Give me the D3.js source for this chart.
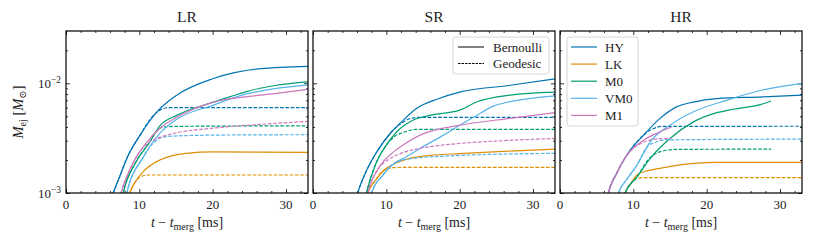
<!DOCTYPE html>
<html>
<head>
<meta charset="utf-8">
<script src="https://cdn.jsdelivr.net/npm/d3@7"></script>
<style>
  body { margin: 0; background: #fff; }
  text { font-family: "Liberation Serif", "DejaVu Serif", serif; fill: #222; }
</style>
</head>
<body>
<svg id="chart" width="813" height="244" font-family="Liberation Serif, serif"></svg>
<script>
// panel names and models
var panels = ["LR", "SR", "HR"];
var models = ["HY", "LK", "M0", "VM0", "M1"];
var colors = ["#0173b2", "#de8f05", "#029e73", "#56b4e9", "#cc78bc"];
var xTicks = [0, 10, 20, 30];
var yTicks = [1e-3, 1e-2];

// ejected mass curves, [t - t_merg (ms), M_ej (Msun)]
var bernLR = {
  HY:  [[6.0,0.0008],[6.45,0.001],[7.3,0.0014],[8.3,0.00207],[10.1,0.00337],[12.4,0.0055],[15.1,0.0078],[20,0.011],[26.5,0.0136],[33,0.0143]],
  LK:  [[8.3,0.0008],[8.7,0.001],[9.5,0.00128],[10.5,0.00156],[12.8,0.002],[16.4,0.0023],[20,0.00237],[33,0.00235]],
  M0:  [[7.5,0.0008],[7.8,0.001],[9.5,0.0019],[11.4,0.0029],[12.8,0.0041],[15.1,0.0051],[20,0.0067],[22.8,0.0077],[24.6,0.0084],[28.7,0.0096],[33,0.0103]],
  VM0: [[8.0,0.0008],[8.3,0.001],[10.5,0.0021],[12.8,0.0035],[15.1,0.0047],[20,0.0063],[24.6,0.008],[28.7,0.009],[33,0.0097]],
  M1:  [[7.1,0.0008],[7.5,0.001],[9,0.0018],[11,0.0029],[12.8,0.0039],[15.1,0.0049],[20,0.0067],[25,0.0076],[28.7,0.0081],[33,0.0088]]
};
var geoLR = {
  HY:  [[6.0,0.0008],[6.45,0.001],[7.3,0.0014],[8.3,0.00207],[10.1,0.00337],[11.8,0.005],[12.8,0.0057],[14,0.006],[33,0.006]],
  LK:  [[8.3,0.0008],[8.7,0.001],[9.5,0.00128],[10.3,0.00142],[11.2,0.00146],[33,0.00146]],
  M0:  [[7.5,0.0008],[7.8,0.001],[9.5,0.0019],[11.4,0.0029],[12.4,0.0037],[13.5,0.004],[15,0.00405],[33,0.0041]],
  VM0: [[8.0,0.0008],[8.3,0.001],[10.5,0.0021],[11.8,0.0028],[13,0.0032],[14.5,0.0033],[20,0.00337],[33,0.0034]],
  M1:  [[7.1,0.0008],[7.5,0.001],[9,0.0018],[11,0.0028],[12.2,0.0031],[14,0.0034],[20,0.0039],[26,0.0042],[33,0.0045]]
};
var bernSR = {
  HY:  [[5.7,0.0008],[6.1,0.001],[7.3,0.0016],[8.7,0.00237],[10.7,0.0036],[12,0.0044],[14.1,0.0059],[17,0.0072],[20,0.0083],[26.9,0.0096],[33,0.011]],
  LK:  [[7.2,0.0008],[7.5,0.001],[8.5,0.0013],[10,0.00168],[11.5,0.0019],[13.2,0.00207],[16,0.0022],[20,0.00229],[26,0.0024],[33,0.00251]],
  M0:  [[7.0,0.0008],[7.3,0.001],[8.5,0.0018],[10,0.00273],[11.4,0.0036],[13.6,0.0046],[15.9,0.0051],[20,0.0057],[22.3,0.00675],[26.9,0.0078],[33,0.0083]],
  VM0: [[7.7,0.0008],[8.0,0.001],[9.5,0.00145],[11,0.00185],[12.5,0.0021],[14.6,0.00255],[17.8,0.00337],[20,0.00415],[22.3,0.0051],[24.6,0.0062],[26.9,0.0068],[33,0.0077]],
  M1:  [[7.2,0.0008],[7.5,0.001],[9,0.0017],[11,0.00237],[12.5,0.0028],[14.6,0.00337],[17,0.0038],[20,0.00415],[26.9,0.0048],[33,0.0054]]
};
var geoSR = {
  HY:  [[5.7,0.0008],[6.1,0.001],[7.3,0.0016],[8.7,0.00237],[10.7,0.0036],[11.8,0.0042],[13,0.0047],[14.5,0.0049],[33,0.0049]],
  LK:  [[7.2,0.0008],[7.5,0.001],[8.5,0.0013],[9.6,0.0016],[10.8,0.0017],[12,0.00171],[33,0.00171]],
  M0:  [[7.0,0.0008],[7.3,0.001],[8.5,0.0018],[10,0.00273],[11.2,0.0033],[12.5,0.0036],[14,0.0038],[33,0.0038]],
  VM0: [[7.7,0.0008],[8.0,0.001],[9.5,0.00145],[11,0.00185],[13.2,0.00205],[20,0.0022],[33,0.0023]],
  M1:  [[7.2,0.0008],[7.5,0.001],[9,0.0017],[10.2,0.002],[12,0.0023],[14.6,0.00255],[20,0.00283],[26,0.003],[33,0.00314]]
};
var bernHR = {
  HY:  [[6.3,0.0008],[6.6,0.001],[7.7,0.0015],[9.1,0.00221],[11.4,0.00337],[13.6,0.00477],[15.9,0.0061],[18.2,0.00675],[21.4,0.00726],[27,0.0075],[33,0.0078]],
  LK:  [[8.6,0.0008],[8.9,0.001],[9.6,0.0012],[10.5,0.00146],[12,0.0016],[13.6,0.00168],[18.2,0.00186],[21.4,0.0019],[33,0.0019]],
  M0:  [[8.6,0.0008],[8.9,0.001],[10.5,0.0014],[12.3,0.00207],[15,0.00314],[18.2,0.00445],[21.4,0.0054],[23.6,0.0058],[27.3,0.0064],[28.8,0.0069]],
  VM0: [[7.7,0.0008],[8.0,0.001],[9,0.0013],[10.5,0.0018],[12.3,0.00293],[15,0.00415],[18.2,0.0055],[22.7,0.007],[27.3,0.0086],[33,0.01]],
  M1:  [[6.3,0.0008],[6.6,0.001],[7.7,0.0015],[9.1,0.0022],[11.4,0.00303],[13.6,0.0036],[15.2,0.004]]
};
var geoHR = {
  HY:  [[6.3,0.0008],[6.6,0.001],[7.7,0.0015],[9.1,0.00221],[11.4,0.00337],[12.5,0.0038],[14,0.00405],[33,0.00406]],
  LK:  [[8.6,0.0008],[8.9,0.001],[9.6,0.0012],[10.3,0.00135],[11.5,0.00138],[33,0.00138]],
  M0:  [[8.6,0.0008],[8.9,0.001],[10.5,0.0014],[12,0.002],[13.6,0.00237],[15.9,0.0025],[28.8,0.00251]],
  VM0: [[7.7,0.0008],[8.0,0.001],[9,0.0013],[10.5,0.0018],[11.8,0.0026],[13,0.0029],[14.5,0.00305],[33,0.0031]],
  M1:  [[6.3,0.0008],[6.6,0.001],[7.7,0.0015],[9.1,0.0022],[11.4,0.0029],[13,0.0031],[15.2,0.00315]]
};
var bern = [bernLR, bernSR, bernHR];
var geo = [geoLR, geoSR, geoHR];

var svg = d3.select('#chart');
var panelLeft = [66, 313, 560];
var plotTop = 31, pw = 242, ph = 162;
var dash = "3.7,1.6";

var x = d3.scaleLinear().domain([0, 33]).range([0, pw]);
var y = d3.scaleLog().domain([1e-3, 3e-2]).range([ph, 0]);

var line = d3.line()
  .x(function(d) { return x(d[0]); })
  .y(function(d) { return y(d[1]); })
  .curve(d3.curveMonotoneX);

var xMinor = d3.range(0, 34, 2).filter(function(v) { return v % 10 != 0; });
var yMinor = [2,3,4,5,6,7,8,9].map(function(v) { return v * 1e-3; }).concat([2e-2]);

// draw one tick set (inward pointing)
function tickAxis(g, axis, vals, len) {
  g.call(axis.tickValues(vals).tickSize(-len).tickFormat(""))
   .call(function(s) { s.select(".domain").remove(); })
   .call(function(s) { s.selectAll(".tick line").attr("stroke", "#000").attr("stroke-width", 0.8); });
}

svg.append("defs").append("clipPath").attr("id", "clip")
  .append("rect").attr("width", pw).attr("height", ph);

panels.forEach(function(name, p) {
  var g = svg.append("g").attr("transform", "translate(" + panelLeft[p] + "," + plotTop + ")");

  // ticks on all four sides
  tickAxis(g.append("g").attr("transform", "translate(0," + ph + ")"), d3.axisBottom(x), xTicks, 4);
  tickAxis(g.append("g").attr("transform", "translate(0," + ph + ")"), d3.axisBottom(x), xMinor, 2);
  tickAxis(g.append("g"), d3.axisTop(x), xTicks, 4);
  tickAxis(g.append("g"), d3.axisTop(x), xMinor, 2);
  tickAxis(g.append("g"), d3.axisLeft(y), yTicks, 4);
  tickAxis(g.append("g"), d3.axisLeft(y), yMinor, 2);
  tickAxis(g.append("g").attr("transform", "translate(" + pw + ",0)"), d3.axisRight(y), yTicks, 4);
  tickAxis(g.append("g").attr("transform", "translate(" + pw + ",0)"), d3.axisRight(y), yMinor, 2);

  // x tick labels
  g.selectAll(".xlab").data(xTicks).enter().append("text")
    .attr("x", function(d) { return x(d); })
    .attr("y", ph + 16)
    .attr("text-anchor", "middle")
    .style("font-size", "13px")
    .text(function(d) { return d; });

  // y tick labels, only first panel
  if (p == 0) {
    g.selectAll(".ylab").data(yTicks).enter().append("text")
      .attr("x", -5)
      .attr("y", function(d) { return y(d) + 4.5; })
      .attr("text-anchor", "end")
      .style("font-size", "13px")
      .each(function(d) {
        var t = d3.select(this);
        t.append("tspan").text("10");
        t.append("tspan").attr("dy", -5).style("font-size", "9.5px").text("\u2212" + (-Math.round(Math.log10(d))));
      });
  }

  // curves
  var lines = g.append("g").attr("clip-path", "url(#clip)");
  models.forEach(function(m, i) {
    lines.append("path").datum(geo[p][m])
      .attr("d", line).attr("fill", "none")
      .attr("stroke", colors[i]).attr("stroke-width", 1.2)
      .attr("stroke-dasharray", dash);
    lines.append("path").datum(bern[p][m])
      .attr("d", line).attr("fill", "none")
      .attr("stroke", colors[i]).attr("stroke-width", 1.2);
  });

  // frame
  g.append("rect").attr("width", pw).attr("height", ph)
    .attr("fill", "none").attr("stroke", "#000").attr("stroke-width", 1.2);

  // title
  g.append("text").attr("x", pw / 2).attr("y", -9)
    .attr("text-anchor", "middle").style("font-size", "15.5px").text(name);

  // x label
  var xl = g.append("text").attr("x", pw / 2).attr("y", ph + 34)
    .attr("text-anchor", "middle").style("font-size", "14px");
  xl.append("tspan").style("font-style", "italic").text("t");
  xl.append("tspan").text(" \u2212 ");
  xl.append("tspan").style("font-style", "italic").text("t");
  xl.append("tspan").attr("dy", 3).style("font-size", "10px").text("merg");
  xl.append("tspan").attr("dy", -3).text(" [ms]");
});

// y label
var yl = svg.append("text")
  .attr("transform", "translate(23," + (plotTop + ph / 2) + ") rotate(-90)")
  .attr("text-anchor", "middle").style("font-size", "14.5px");
yl.append("tspan").style("font-style", "italic").text("M");
yl.append("tspan").attr("dy", 3).style("font-size", "10px").text("ej");
yl.append("tspan").attr("dy", -3).text(" [");
yl.append("tspan").style("font-style", "italic").text("M");
yl.append("tspan").attr("dy", 3).style("font-size", "10px").text("\u2299");
yl.append("tspan").attr("dy", -3).text("]");

// legend for line styles (SR panel)
var lg1 = svg.append("g").attr("transform", "translate(453,37)");
lg1.append("rect").attr("width", 96).attr("height", 37).attr("rx", 2.5)
  .attr("fill", "#fff").attr("fill-opacity", 0.8).attr("stroke", "#ccc").attr("stroke-width", 0.8);
["Bernoulli", "Geodesic"].forEach(function(lbl, i) {
  lg1.append("line").attr("x1", 5).attr("x2", 31).attr("y1", 10 + i * 16.5).attr("y2", 10 + i * 16.5)
    .attr("stroke", "#000").attr("stroke-width", 1)
    .attr("stroke-dasharray", i == 1 ? "2.5,1" : null);
  lg1.append("text").attr("x", 40).attr("y", 14.5 + i * 16.5).style("font-size", "13px").text(lbl);
});

// legend for models (HR panel)
var lg2 = svg.append("g").attr("transform", "translate(567,37)");
lg2.append("rect").attr("width", 71).attr("height", 89).attr("rx", 2.5)
  .attr("fill", "#fff").attr("fill-opacity", 0.8).attr("stroke", "#ccc").attr("stroke-width", 0.8);
models.forEach(function(m, i) {
  lg2.append("line").attr("x1", 4).attr("x2", 30).attr("y1", 10 + i * 17.1).attr("y2", 10 + i * 17.1)
    .attr("stroke", colors[i]).attr("stroke-width", 1.2);
  lg2.append("text").attr("x", 38).attr("y", 14.5 + i * 17.1).style("font-size", "13px").text(m);
});
</script>
</body>
</html>
